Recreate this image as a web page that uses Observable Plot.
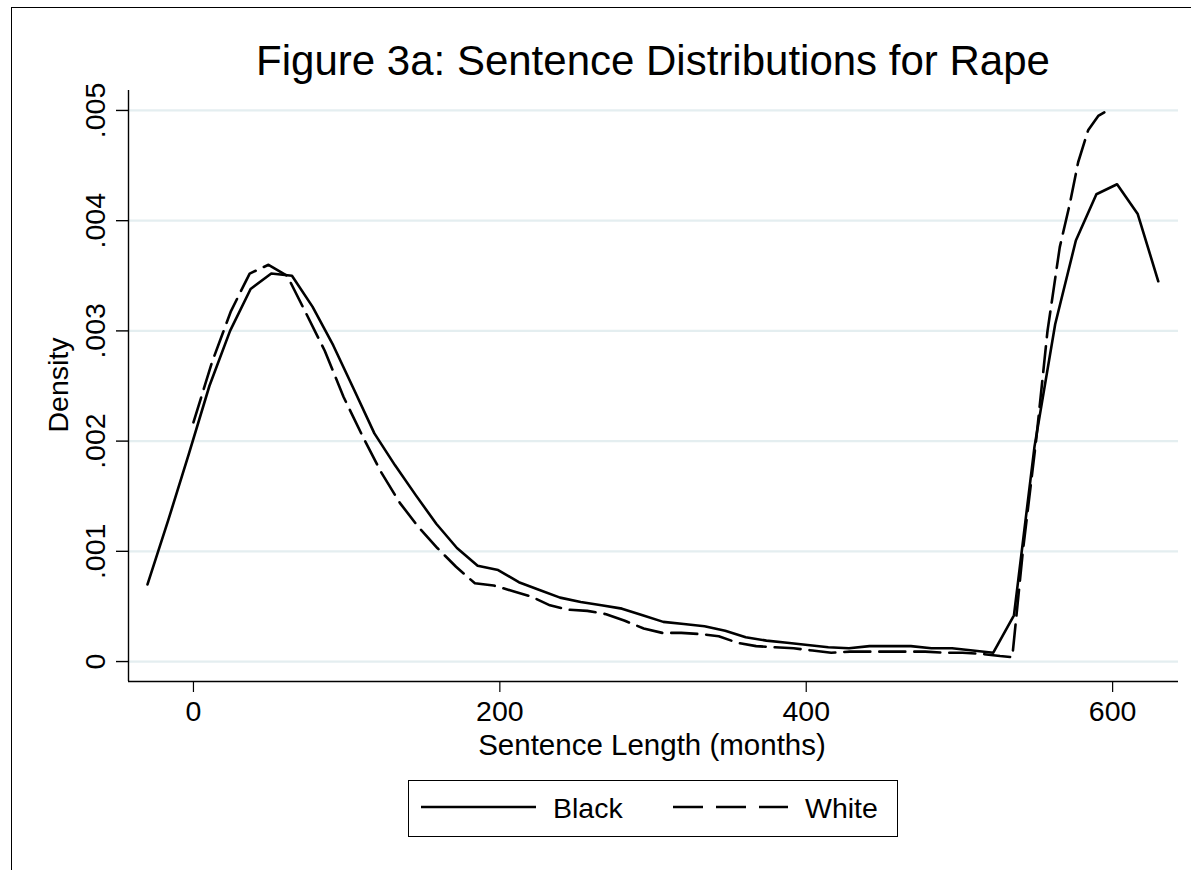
<!DOCTYPE html>
<html>
<head>
<meta charset="utf-8">
<script src="https://cdn.jsdelivr.net/npm/d3@7"></script>
<script src="https://cdn.jsdelivr.net/npm/@observablehq/plot@0.6"></script>
<style>
  html, body { margin: 0; padding: 0; background: #fff; }
  #page { position: relative; width: 1191px; height: 870px; overflow: hidden; background: #fff;
          font-family: "Liberation Sans", Arial, Helvetica, sans-serif; color: #000; }
  #frame { position: absolute; left: 11px; top: 7px; width: 3000px; height: 3000px; border: 1px solid #000; }
  #chart { position: absolute; left: 0; top: 0; }
  .lbl { position: absolute; line-height: 1; white-space: nowrap; }
  #title { font-size: 42px; left: 653px; top: 40px; transform: translateX(-50%); }
  #xlabel { font-size: 29.5px; left: 652px; top: 730px; transform: translateX(-50%); }
  #ylabel { font-size: 28.5px; left: 58px; top: 385px; transform: translate(-50%, -50%) rotate(-90deg); }
  #legend { position: absolute; left: 408px; top: 780px; width: 490px; height: 57px; box-sizing: border-box;
            border: 1px solid #000; background: #fff; }
  #legend svg { position: absolute; left: 0; top: 0; }
  .leg { font-size: 28.5px; }
</style>
</head>
<body>
<div id="page">
  <div id="frame"></div>
  <div id="chart"></div>
  <div id="title" class="lbl">Figure 3a: Sentence Distributions for Rape</div>
  <div id="xlabel" class="lbl">Sentence Length (months)</div>
  <div id="ylabel" class="lbl">Density</div>
  <div id="legend">
    <svg width="490" height="57">
      <line x1="12" x2="127" y1="26" y2="26" stroke="#000" stroke-width="2.6"></line>
      <line x1="264" x2="379" y1="26" y2="26" stroke="#000" stroke-width="2.6" stroke-dasharray="30,13"></line>
    </svg>
    <div class="lbl leg" style="left:144px; top:13px;">Black</div>
    <div class="lbl leg" style="left:396px; top:13px;">White</div>
  </div>
</div>
<script>
// ---- data ----
const blackX = [-30, -16.5, -3.1, 10.4, 23.9, 37.3, 50.8, 64.3, 77.7, 91.2, 104.7, 118.1, 131.6, 145.1, 158.5, 172, 185.5, 198.9, 212.4, 225.9, 239.3, 252.8, 266.3, 279.7, 293.2, 306.7, 320.1, 333.6, 347.1, 360.5, 374, 387.5, 400.9, 414.4, 427.9, 441.3, 454.8, 468.3, 481.7, 495.2, 508.7, 522.1, 535.6, 549, 562.5, 576, 589.4, 602.9, 616.4, 629.8];
const blackY = [0.00070, 0.00128, 0.00188, 0.00250, 0.00300, 0.00338, 0.00352, 0.00350, 0.00322, 0.00287, 0.00247, 0.00207, 0.00178, 0.00151, 0.00125, 0.00103, 0.00087, 0.00083, 0.00072, 0.00065, 0.00058, 0.00054, 0.00051, 0.00048, 0.00042, 0.00036, 0.00034, 0.00032, 0.00028, 0.00022, 0.00019, 0.00017, 0.00015, 0.00013, 0.00012, 0.00014, 0.00014, 0.00014, 0.00012, 0.00012, 0.00010, 0.00008, 0.00042, 0.00195, 0.00306, 0.00382, 0.00424, 0.00433, 0.00406, 0.00345];
const whiteX = [0, 12.2, 24.5, 36.7, 49, 61.2, 73.5, 85.7, 98, 110.2, 122.4, 134.7, 146.9, 159.2, 171.4, 183.7, 195.9, 208.2, 220.4, 232.7, 244.9, 257.1, 269.4, 281.6, 293.9, 306.1, 318.4, 330.6, 342.9, 355.1, 367.3, 379.6, 391.8, 404.1, 416.3, 428.6, 440.8, 453.1, 465.3, 477.6, 489.8, 502, 514.3, 526.5, 534.5, 541.4, 550, 557.5, 565.5, 572, 577.5, 584, 590.6, 599];
const whiteY = [0.00217, 0.00272, 0.00318, 0.00352, 0.00360, 0.00350, 0.00316, 0.00282, 0.00240, 0.00205, 0.00172, 0.00144, 0.00122, 0.00103, 0.00086, 0.00071, 0.00069, 0.00064, 0.00059, 0.00051, 0.00047, 0.00046, 0.00043, 0.00037, 0.00030, 0.00026, 0.00026, 0.00025, 0.00023, 0.00017, 0.00014, 0.00013, 0.00012, 0.00010, 0.00008, 0.00009, 0.00009, 0.00009, 0.00009, 0.00009, 0.00008, 0.00008, 0.00007, 0.00005, 0.00004, 0.00100, 0.00200, 0.00300, 0.00376, 0.00415, 0.00453, 0.00482, 0.00495, 0.00502];
const yTicks = [0, 0.001, 0.002, 0.003, 0.004, 0.005];
const yTickLabels = ["0", ".001", ".002", ".003", ".004", ".005"];
const xTicks = [0, 200, 400, 600];
const xDomain = [-42.4, 643];
const yDomain = [-0.000181, 0.005181];

const black = blackX.map((x, i) => ({x, y: blackY[i]}));
const white = whiteX.map((x, i) => ({x, y: whiteY[i]}));

const chart = Plot.plot({
  width: 1191,
  height: 870,
  marginLeft: 128,
  marginRight: 13,
  marginTop: 90,
  marginBottom: 189,
  x: {domain: xDomain},
  y: {domain: yDomain},
  style: {fontFamily: "'Liberation Sans', Arial, Helvetica, sans-serif", background: "transparent", color: "#000", overflow: "visible"},
  marks: [
    Plot.ruleY(yTicks, {stroke: "#e4eef0", strokeWidth: 2.2}),
    Plot.ruleX([xDomain[0]], {stroke: "#000", strokeWidth: 1.4}),
    Plot.ruleY([yDomain[0]], {stroke: "#000", strokeWidth: 1.4}),
    Plot.axisY({ticks: yTicks, tickSize: 12, tickFormat: () => "", label: null, strokeWidth: 1.4}),
    Plot.text(yTicks, {y: d => d, text: (d, i) => yTickLabels[i], frameAnchor: "left", dx: -24, rotate: -90, lineAnchor: "bottom", textAnchor: "middle", fontSize: 28.5}),
    Plot.axisX({ticks: xTicks, tickSize: 11, tickPadding: 8, tickFormat: d => String(d), label: null, fontSize: 28.5, strokeWidth: 1.2}),
    Plot.line(black, {x: "x", y: "y", stroke: "#000", strokeWidth: 2.6}),
    Plot.line(white, {x: "x", y: "y", stroke: "#000", strokeWidth: 2.6, strokeDasharray: "26,9"})
  ]
});
document.getElementById("chart").appendChild(chart);
</script>
</body>
</html>
